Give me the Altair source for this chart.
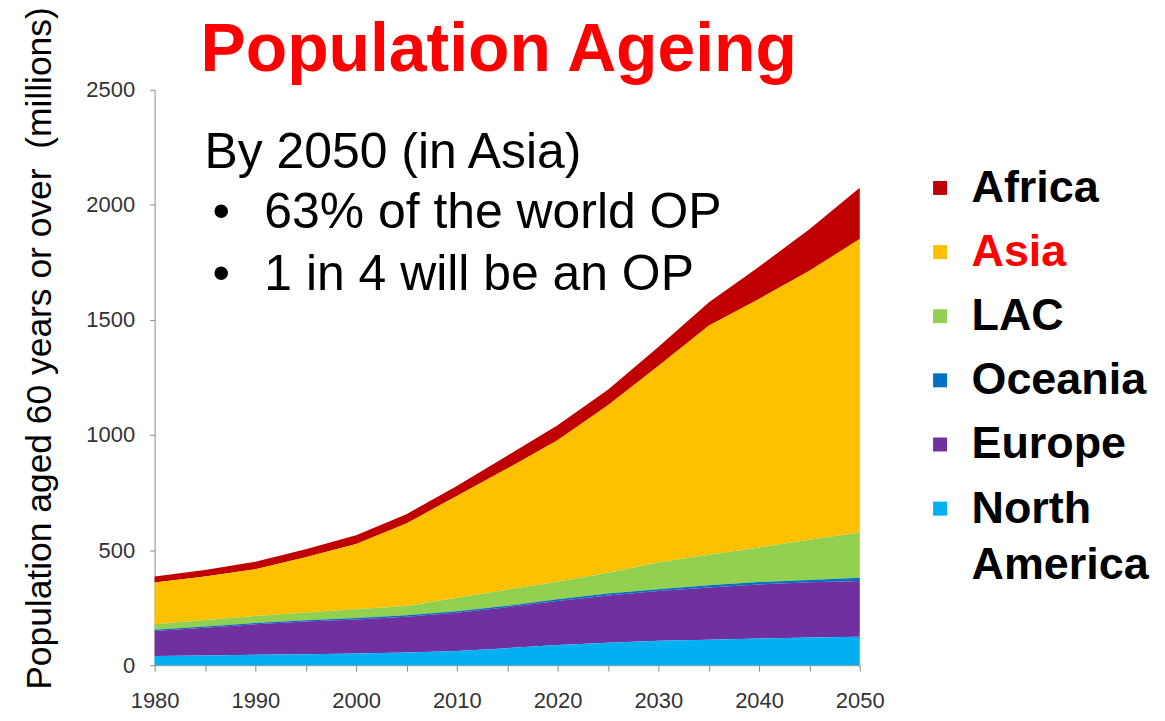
import altair as alt
import pandas as pd

years = [1980, 1985, 1990, 1995, 2000, 2005, 2010, 2015, 2020, 2025, 2030, 2035, 2040, 2045, 2050]
north_america = [40, 42, 45, 48, 51, 55, 62, 74, 88, 98, 106, 111, 116, 120, 124]
europe = [109, 121, 133, 142, 148, 156, 166, 178, 191, 205, 216, 227, 235, 240, 242]
oceania = [5, 5, 5, 5, 6, 6, 6, 6, 7, 8, 8, 9, 10, 10, 14]
lac = [24, 28, 31, 34, 38, 40, 59, 70, 76, 91, 116, 133, 150, 175, 196]
asia = [181, 189, 203, 240, 283, 359, 442, 526, 615, 727, 854, 995, 1080, 1169, 1275]
africa = [26, 29, 32, 35, 38, 40, 44, 56, 65, 68, 82, 101, 140, 180, 223]

regions = ["Africa", "Asia", "LAC", "Oceania", "Europe", "North America"]
colors = ["#C00000", "#FFC000", "#92D050", "#0070C0", "#7030A0", "#00B0F0"]
series = [africa, asia, lac, oceania, europe, north_america]

rows = []
for i, (name, vals) in enumerate(zip(regions, series)):
    for yr, v in zip(years, vals):
        rows.append({"year": yr, "region": name, "value": v, "rank": len(regions) - i})
df = pd.DataFrame(rows)

title_text = "Population Ageing"
note_head = "By 2050 (in Asia)"
bullets = ["63% of the world OP", "1 in 4 will be an OP"]
y_title = "Population aged 60 years or over\u00a0 (millions)"

axis_font = "Liberation Sans, sans-serif"
legend_font = "Liberation Sans, sans-serif"

area = alt.Chart(df).mark_area(interpolate="linear").encode(
    x=alt.X("year:Q",
            scale=alt.Scale(domain=[1980, 2050], nice=False, zero=False),
            axis=alt.Axis(values=list(range(1980, 2055, 5)), format="d",
                          labelExpr="datum.value % 10 == 0 ? datum.label : ''",
                          labelOverlap=False, grid=False, title=None,
                          domainColor="#8a8a8a", tickColor="#8a8a8a", tickSize=6,
                          labelFont=axis_font, labelFontSize=22, labelColor="#333333",
                          labelPadding=19, labelFlush=False)),
    y=alt.Y("value:Q", stack="zero",
            scale=alt.Scale(domain=[0, 2500], nice=False),
            axis=alt.Axis(values=[0, 500, 1000, 1500, 2000, 2500], grid=False, format="d",
                          title=y_title, titleFontSize=35.5, titleFontWeight="normal",
                          titleColor="#000000", titleFont="Liberation Sans, sans-serif",
                          titleAngle=270, titleX=-115, titleY=259, titleAlign="center",
                          titleBaseline="middle",
                          domainColor="#8a8a8a", tickColor="#8a8a8a", tickSize=5,
                          labelFont=axis_font, labelFontSize=22, labelColor="#333333",
                          labelPadding=15)),
    color=alt.Color("region:N",
                    scale=alt.Scale(domain=regions, range=colors),
                    legend=alt.Legend(orient="none", legendX=765, legendY=76, title=None,
                                      symbolType="square", symbolSize=196,
                                      symbolStrokeWidth=0, padding=0,
                                      labelFont=legend_font,
                                      labelFontSize=45, labelFontWeight="bold",
                                      labelColor=alt.ExprRef("datum.label == 'Asia' ? '#FF0000' : '#000000'"),
                                      labelOffset=9, rowPadding=18.3, labelLimit=400,
                                      labelExpr="datum.label == 'North America' ? 'North' : datum.label")),
    order=alt.Order("rank:Q"),
)


def txt(text, x, y, size, color="#000000", weight="normal", align="left",
        font="Liberation Sans, sans-serif"):
    return alt.Chart(alt.Data(values=[{}])).mark_text(
        text=text, x=x, y=y, fontSize=size, color=color, fontWeight=weight,
        align=align, baseline="alphabetic", font=font)


layers = [
    area,
    txt(title_text, 345, -19, 68, color="#FF0000", weight="bold", align="center"),
    txt(note_head, 50, 78, 50),
    txt("\u2022", 58, 139, 50),
    txt(bullets[0], 110, 139, 50),
    txt("\u2022", 58, 201, 50),
    txt(bullets[1], 110, 201, 50),
    txt("America", 819, 491, 45, weight="bold", font=legend_font),
]

chart = alt.layer(*layers).properties(
    width=707, height=577,
    autosize=alt.AutoSizeParams(type="none"),
    padding={"left": 147, "top": 81, "right": 298, "bottom": 47},
    background="white",
).configure_view(stroke=None)

chart.save("out.html", embed_options={"renderer": "svg", "actions": False})
